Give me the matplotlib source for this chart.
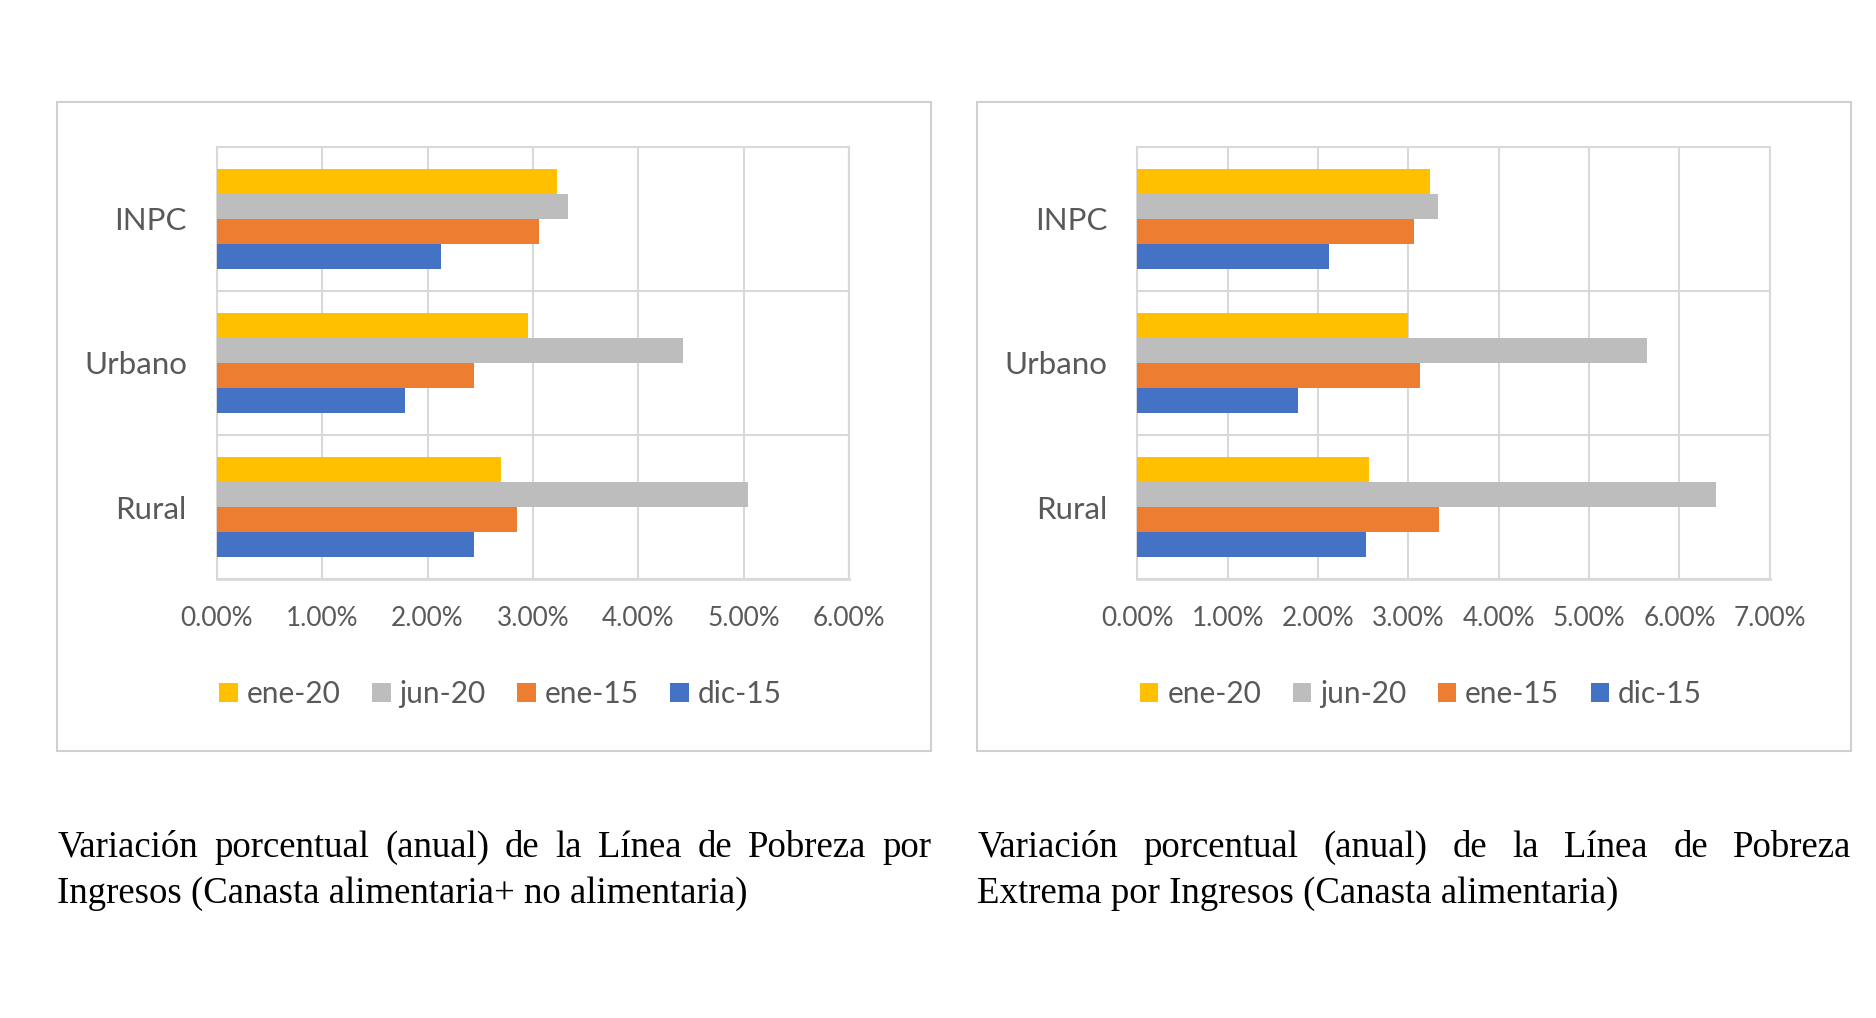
import matplotlib.pyplot as plt
from matplotlib.patches import Rectangle, Patch
from matplotlib.ticker import FuncFormatter
import numpy as np

# categories and series
categorias = ['INPC', 'Urbano', 'Rural']
series = ['ene-20', 'jun-20', 'ene-15', 'dic-15']
colores = ['#FFC000', '#BDBDBD', '#ED7D31', '#4472C4']

# Linea de Pobreza por Ingresos (canasta alimentaria + no alimentaria), %
lp_ene20 = [3.23, 2.95, 2.70]
lp_jun20 = [3.33, 4.42, 5.04]
lp_ene15 = [3.06, 2.44, 2.85]
lp_dic15 = [2.13, 1.79, 2.44]

# Linea de Pobreza Extrema por Ingresos (canasta alimentaria), %
lpe_ene20 = [3.24, 3.00, 2.56]
lpe_jun20 = [3.33, 5.64, 6.41]
lpe_ene15 = [3.06, 3.13, 3.34]
lpe_dic15 = [2.12, 1.78, 2.53]

xmax_izq = 6
xmax_der = 7

cap_izq = ['Variación porcentual (anual) de la Línea de Pobreza por',
           'Ingresos (Canasta alimentaria+ no alimentaria)']
cap_der = ['Variación porcentual (anual) de la Línea de Pobreza',
           'Extrema por Ingresos (Canasta alimentaria)']

W, H = 1876, 1018
GRID = '#D9D9D9'
TXT = '#595959'
FONT = ['Lato', 'DejaVu Sans']
SERIF = ['Liberation Serif', 'DejaVu Serif']

plt.rcParams['font.family'] = FONT

fig = plt.figure(figsize=(W / 100, H / 100), dpi=100)


def panel(x_ax, x_box, datos, xmax, legend_cx):
    # outer chart box
    fig.patches.append(Rectangle((x_box / W, 1 - 750.7 / H), 874 / W, 649.2 / H,
                                 transform=fig.transFigure, fill=False,
                                 edgecolor='#D0D0D0', linewidth=1.5))
    ax = fig.add_axes([x_ax / W, 1 - 579.3 / H, 632.5 / W, 432.6 / H])
    y = np.arange(len(categorias))
    h = 0.1725
    for i, (vals, c) in enumerate(zip(datos, colores)):
        ax.barh(y + (i - 1.5) * h, vals, height=h, color=c, label=series[i],
                zorder=3)
    ax.set_xlim(0, xmax)
    ax.set_ylim(2.5, -0.5)
    ax.set_xticks(np.arange(0, xmax + 1))
    ax.xaxis.set_major_formatter(FuncFormatter(lambda v, p: '%.2f%%' % v))
    ax.set_yticks(y)
    ax.set_yticklabels(categorias)
    ax.set_yticks(np.arange(-0.5, 3, 1), minor=True)
    ax.tick_params(axis='x', length=0, pad=19, labelsize=18.8, labelcolor=TXT)
    ax.tick_params(axis='y', which='both', length=0, pad=21.5, labelsize=22.5,
                   labelcolor=TXT)
    ax.grid(axis='x', color=GRID, linewidth=1.5, zorder=0)
    ax.grid(axis='y', which='minor', color=GRID, linewidth=1.5, zorder=0)
    ax.set_axisbelow(True)
    for s in ax.spines.values():
        s.set_color(GRID)
        s.set_linewidth(1.5)
    ax.spines['bottom'].set_linewidth(2)
    handles = [Patch(facecolor=c, edgecolor='none', label=s)
               for c, s in zip(colores, series)]
    fig.legend(handles=handles, loc='center', ncol=4, frameon=False,
               bbox_to_anchor=(legend_cx / W, 1 - 694 / H), fontsize=21.5,
               handlelength=0.62, handleheight=0.62, handletextpad=0.3,
               columnspacing=1.05, labelcolor=TXT)
    return ax


panel(216.7, 57.3, [lp_ene20, lp_jun20, lp_ene15, lp_dic15], xmax_izq, 500.5)
panel(1137.3, 977.3, [lpe_ene20, lpe_jun20, lpe_ene15, lpe_dic15], xmax_der, 1421)

renderer = fig.canvas.get_renderer()


def caption(lines, x0, x1, y1, y2):
    kw = dict(fontsize=26.5, family=SERIF, color='black', va='baseline')
    words = lines[0].split()
    txts = [fig.text(0, 1 - y1 / H, w, **kw) for w in words]
    widths = [t.get_window_extent(renderer).width for t in txts]
    gap = (x1 - x0 - sum(widths)) / (len(words) - 1)
    x = x0
    for t, w in zip(txts, widths):
        t.set_x(x / W)
        x += w + gap
    fig.text(x0 / W, 1 - y2 / H, lines[1], **kw)


caption(cap_izq, 57.4, 931.7, 856.7, 903.3)
caption(cap_der, 977.3, 1851.4, 856.7, 903.3)

fig.savefig('out.png', dpi=100)
